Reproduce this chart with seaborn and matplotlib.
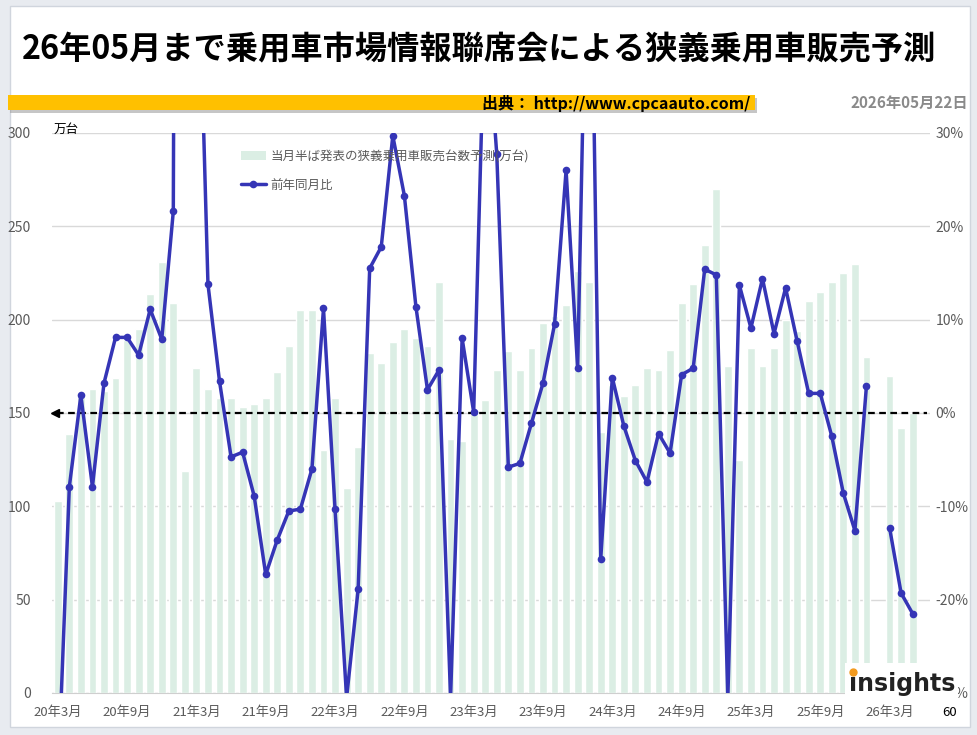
import numpy as np
import pandas as pd
import matplotlib
matplotlib.use("Agg")
import matplotlib.pyplot as plt
import seaborn as sns
from matplotlib.patches import Rectangle, Patch
from matplotlib.lines import Line2D

# --- データ (2020年3月〜2026年5月, 2026年2月は欠測) ---
months = pd.period_range("2020-03", "2026-06", freq="M")  # 最後の1枠は空き

sales = [103, 139, 160, 163, 162, 169, 189, 195, 214, 231,
         209, 119, 174, 163, 158, 158, 153, 155, 158, 172,
         186, 205, 205, 130, 158, 110, 132, 182, 177, 188,
         195, 190, 186, 220, 136, 135, 151, 157, 173, 183,
         173, 185, 198, 202, 208, 226, 220, 140, 165, 159,
         165, 174, 173, 184, 209, 219, 240, 270, 175, 125,
         185, 175, 185, 200, 194, 210, 215, 220, 225, 230,
         180, None, 170, 142, 150]

yoy = [-40, -7.9, 1.9, -7.9, 3.2, 8.1, 8.1, 6.2, 11.1, 7.9,
       21.6, 370, 58, 13.8, 3.4, -4.7, -4.2, -8.9, -17.3, -13.6,
       -10.5, -10.3, -6.0, 11.2, -10.3, -30.5, -18.9, 15.5, 17.8, 29.7,
       23.3, 11.4, 2.5, 4.6, -30.5, 8.0, 0.1, 45, 27.7, -5.8,
       -5.4, -1.1, 3.2, 9.5, 26.0, 4.8, 65, -15.6, 3.8, -1.4,
       -5.1, -7.4, -2.2, -4.3, 4.1, 4.8, 15.4, 14.8, -30.5, 13.7,
       9.1, 14.4, 8.5, 13.4, 7.7, 2.1, 2.1, -2.5, -8.6, -12.6,
       2.9, None, -12.3, -19.3, -21.5]

title = "26年05月まで乗用車市場情報聯席会による狭義乗用車販売予測"
bar_label = "当月半ば発表の狭義乗用車販売台数予測(万台)"
line_label = "前年同月比"

bar_color = "#dbeee4"
line_color = "#3535b6"
grey_txt = "#5a5a5a"

labels = [f"{p.year % 100}年{p.month}月" for p in months]
df_bar = pd.DataFrame({"month": labels[:len(sales)], "sales": sales}).dropna()

df_line = pd.DataFrame({"pos": np.arange(len(yoy)), "yoy": yoy})
df_line["seg"] = df_line["yoy"].isna().cumsum()
df_line = df_line.dropna()

# --- 図 ---
sns.set_style("white")
plt.rcParams["font.family"] = ["Noto Sans CJK JP", "DejaVu Sans"]

W, H = 978, 735
fig = plt.figure(figsize=(W / 100, H / 100), dpi=100)
fig.patch.set_facecolor("#e8ebf0")

def fx(x):
    return x / W

def fy(y):
    return 1 - y / H

# 白いカード
fig.patches.append(Rectangle((fx(10), fy(727)), fx(960), 721 / H, transform=fig.transFigure,
                             facecolor="white", edgecolor="#d0d5dd", lw=1, zorder=-5))

ax = fig.add_axes([fx(52), fy(693), fx(930) - fx(52), fy(133) - fy(693)])
ax.set_facecolor("none")

sns.barplot(data=df_bar, x="month", y="sales", order=labels, color=bar_color,
            saturation=1, width=0.68, ax=ax)

ax.set_ylim(0, 300)
ax.set_xlim(-0.5, len(months) - 0.5)
ax.set_yticks(range(0, 301, 50))
ax.yaxis.grid(True, color="#d9d9d9", lw=1)
ax.set_axisbelow(True)
ax.set_xlabel("")
ax.set_ylabel("")

tick_pos = list(range(0, len(sales), 6))
ax.set_xticks(tick_pos)
ax.set_xticklabels([labels[i] for i in tick_pos])
ax.set_xticks(np.arange(-0.5, len(sales), 6), minor=True)
ax.tick_params(axis="x", which="major", length=0, pad=9, labelsize=9.5, labelcolor=grey_txt)
ax.tick_params(axis="x", which="minor", length=4, color="#c8c8c8")
ax.tick_params(axis="y", length=0, pad=15, labelsize=10, labelcolor=grey_txt)
for s in ["left", "right", "top"]:
    ax.spines[s].set_visible(False)
ax.spines["bottom"].set_color("#cfcfcf")

ax2 = ax.twinx()
ax2.axhline(0, xmin=0.006, xmax=0.997, color="black", ls=(0, (3, 2)), lw=1.6, zorder=1)
ax2.plot([-0.2], [0], marker="<", color="black", ms=6, zorder=1, clip_on=False)
sns.lineplot(data=df_line, x="pos", y="yoy", units="seg", estimator=None, color=line_color,
             lw=2.5, marker="o", markersize=5.5, markeredgewidth=0, ax=ax2, zorder=3)
ax2.set_ylim(-30, 30)
ax2.set_xlim(-0.5, len(months) - 0.5)
ax2.set_yticks(range(-30, 31, 10))
ax2.set_yticklabels([f"{v}%" for v in range(-30, 31, 10)])
ax2.tick_params(axis="y", length=0, pad=4, labelsize=10, labelcolor=grey_txt)
ax2.set_xlabel("")
ax2.set_ylabel("")
for s in ["left", "right", "top", "bottom"]:
    ax2.spines[s].set_visible(False)

# 凡例
handles = [Patch(facecolor=bar_color, edgecolor="none"),
           Line2D([], [], color=line_color, lw=2.5, marker="o", markersize=5.5, markeredgewidth=0)]
fig.legend(handles, [bar_label, line_label], loc="upper left", bbox_to_anchor=(fx(241), fy(150)),
           frameon=False, fontsize=9, labelcolor=grey_txt, handlelength=2.0, handletextpad=0.35,
           labelspacing=1.25, borderpad=0, borderaxespad=0)

# タイトル・帯
fig.text(fx(22), fy(50), title, fontsize=23.2, fontweight="bold", va="center", color="black")
fig.patches.append(Rectangle((fx(10), fy(113)), fx(747), 15 / H, transform=fig.transFigure,
                             facecolor="#a0a0a0", edgecolor="none", alpha=0.6, zorder=1))
fig.patches.append(Rectangle((fx(8), fy(110)), fx(747), 15 / H, transform=fig.transFigure,
                             facecolor="#ffc000", edgecolor="none", zorder=2))
fig.text(fx(750), fy(103), "出典： http://www.cpcaauto.com/", fontsize=11.5, fontweight="bold",
         ha="right", va="center", color="black", zorder=3)
fig.text(fx(968), fy(103), "2026年05月22日", fontsize=11, fontweight="bold",
         ha="right", va="center", color="#8a8a8a")
fig.text(fx(54), fy(129), "万台", fontsize=9, va="center", color="black")
fig.text(fx(950), fy(712), "60", fontsize=9.5, ha="center", va="center", color="black")

# ロゴ (右下の -30% を覆う)
fig.patches.append(Rectangle((fx(845), fy(701)), fx(113), 38 / H, transform=fig.transFigure,
                             facecolor="white", edgecolor="none", zorder=10))
fig.text(fx(849), fy(684), "ınsights", fontsize=17, fontweight="bold", va="center",
         color="#222222", zorder=11, family="DejaVu Sans")
fig.add_artist(Line2D([fx(853)], [fy(672)], marker="o", color="#f39a1e", ms=5,
                      transform=fig.transFigure, zorder=12))

fig.savefig("out.png", dpi=100, facecolor=fig.get_facecolor())
